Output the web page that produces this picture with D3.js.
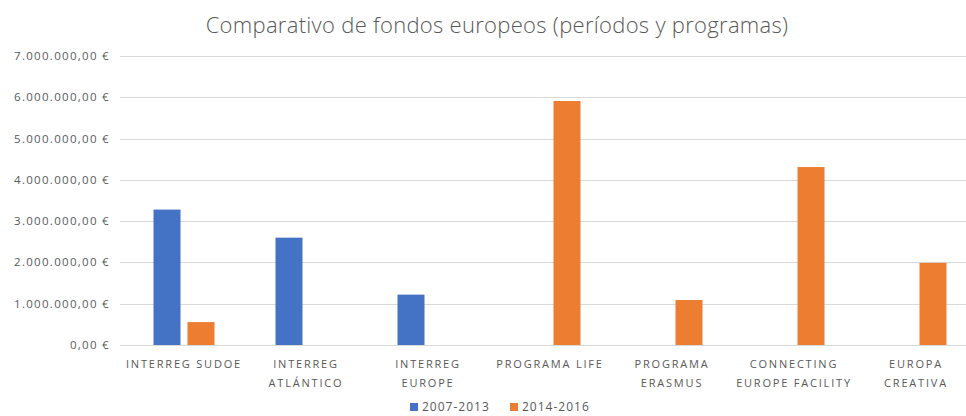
<!DOCTYPE html>
<html>
<head>
<meta charset="utf-8">
<style>
  body { margin: 0; background: #fff; }
  text { font-family: "Open Sans", sans-serif; fill: #595959; }
</style>
</head>
<body>
<div id="chart"></div>
<script src="https://d3js.org/d3.v7.min.js"></script>
<script>
// data
var categories = [
  ["INTERREG SUDOE"],
  ["INTERREG", "ATLÁNTICO"],
  ["INTERREG", "EUROPE"],
  ["PROGRAMA LIFE"],
  ["PROGRAMA", "ERASMUS"],
  ["CONNECTING", "EUROPE FACILITY"],
  ["EUROPA", "CREATIVA"]
];
var series = ["2007-2013", "2014-2016"];
var values2007 = [3280000, 2600000, 1220000, 0, 0, 0, 0];
var values2014 = [555000, 0, 0, 5910000, 1090000, 4310000, 1990000];
var yTicks = [0, 1000000, 2000000, 3000000, 4000000, 5000000, 6000000, 7000000];
var colors = ["#4472C4", "#ED7D31"];

var W = 966, H = 416;
var margin = {top: 56, left: 123, bottom: 71};

var svg = d3.select("#chart").append("svg")
  .attr("width", W)
  .attr("height", H);

var y = d3.scaleLinear()
  .domain([0, 7000000])
  .range([H - margin.bottom, margin.top]);

var x0 = d3.scaleBand()
  .domain(d3.range(categories.length))
  .range([margin.left, margin.left + 122 * categories.length]);

// bars 27px wide with a 7px gap, centred in each band
var x1 = d3.scaleBand()
  .domain(series)
  .range([x0.bandwidth() / 2 - 30.5, x0.bandwidth() / 2 + 30.5])
  .paddingInner(7 / 34);

var fmt = function(v) {
  var s = d3.format(",.2f")(v);
  return s.replace(/,/g, "#").replace(".", ",").replace(/#/g, ".") + " €";
};

// gridlines
svg.append("g").selectAll("line")
  .data(yTicks)
  .enter().append("line")
  .attr("x1", 120).attr("x2", W)
  .attr("y1", function(d) { return Math.round(y(d)) + 0.5; })
  .attr("y2", function(d) { return Math.round(y(d)) + 0.5; })
  .attr("stroke", "#d9d9d9")
  .attr("stroke-width", 1);

// y labels
svg.append("g").selectAll("text")
  .data(yTicks)
  .enter().append("text")
  .attr("x", 110)
  .attr("y", function(d) { return y(d); })
  .attr("dy", "0.35em")
  .attr("text-anchor", "end")
  .style("font-size", "11.5px")
  .style("letter-spacing", "1.3px")
  .text(fmt);

var rows = categories.map(function(c, i) {
  return [values2007[i], values2014[i]];
});

var groups = svg.append("g").selectAll("g")
  .data(rows)
  .enter().append("g")
  .attr("transform", function(d, i) { return "translate(" + x0(i) + ",0)"; });

groups.selectAll("rect")
  .data(function(d) { return d.map(function(v, j) { return {s: series[j], v: v, j: j}; }); })
  .enter().append("rect")
  .filter(function(d) { return d.v > 0; })
  .attr("x", function(d) { return x1(d.s); })
  .attr("width", x1.bandwidth())
  .attr("y", function(d) { return y(d.v); })
  .attr("height", function(d) { return y(0) - y(d.v); })
  .attr("fill", function(d) { return colors[d.j]; });

// category labels
var labels = svg.append("g").selectAll("text")
  .data(categories)
  .enter().append("text")
  .attr("text-anchor", "middle")
  .attr("x", function(d, i) { return x0(i) + x0.bandwidth() / 2; })
  .attr("y", 368)
  .style("font-size", "11px")
  .style("letter-spacing", "1.8px");

labels.selectAll("tspan")
  .data(function(d) { return d; })
  .enter().append("tspan")
  .attr("x", function() { return d3.select(this.parentNode).attr("x"); })
  .attr("dy", function(d, i) { return i ? 19 : 0; })
  .text(function(d) { return d; });

// title
svg.append("text")
  .attr("x", 497)
  .attr("y", 33)
  .attr("text-anchor", "middle")
  .style("font-size", "22px")
  .style("font-weight", 300)
  .style("letter-spacing", "0.3px")
  .text("Comparativo de fondos europeos (períodos y programas)");

// legend
var legend = svg.append("g").selectAll("g")
  .data(series)
  .enter().append("g")
  .attr("transform", function(d, i) { return "translate(" + (410 + i * 100) + ",407)"; });

legend.append("rect")
  .attr("x", 0).attr("y", -4)
  .attr("width", 8).attr("height", 8)
  .attr("fill", function(d, i) { return colors[i]; });

legend.append("text")
  .attr("x", 12)
  .attr("y", 0)
  .attr("dy", "0.35em")
  .style("font-size", "12px")
  .style("letter-spacing", "1px")
  .text(function(d) { return d; });
</script>
</body>
</html>
